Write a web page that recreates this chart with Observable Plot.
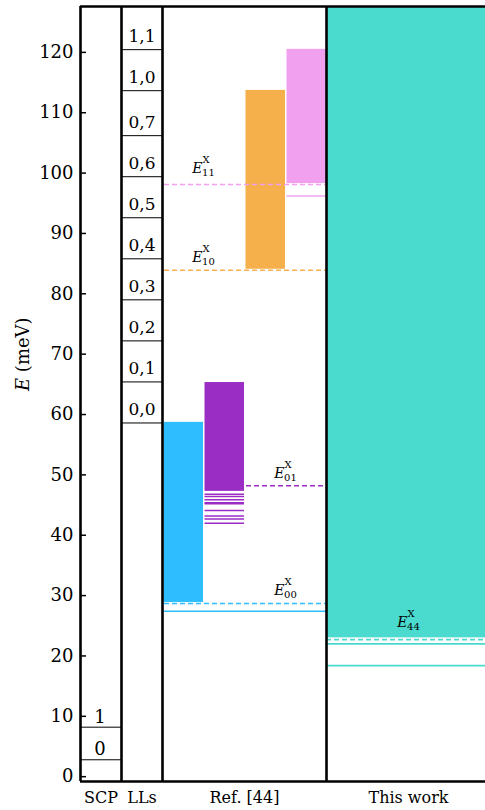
<!DOCTYPE html>
<html>
<head>
<meta charset="utf-8">
<script src="https://cdn.jsdelivr.net/npm/d3@7"></script>
<script src="https://cdn.jsdelivr.net/npm/@observablehq/plot@0.6"></script>
<style>
  html, body { margin: 0; padding: 0; background: #fff; overflow: hidden; font-family: "DejaVu Serif"; }
  svg { display: block; }
</style>
</head>
<body>
<div id="chart"></div>
<script>
// ---------------- data ----------------
const columns = ["SCP", "LLs", "Ref. [44]", "This work"];
const columnSpan = [1, 1, 4, 4];
const yTicks = [0, 10, 20, 30, 40, 50, 60, 70, 80, 90, 100, 110, 120];

const scpLabels = ["0", "1"];
const scpEnergies = [2.8, 8.2];

const llLabels = ["0,0", "0,1", "0,2", "0,3", "0,4", "0,5", "0,6", "0,7", "1,0", "1,1"];
const llEnergies = [58.6, 65.4, 72.2, 79.0, 85.8, 92.6, 99.4, 106.2, 113.65, 120.45];

const refStates = ["00", "01", "10", "11"];
const refColors = ["#2ebdfe", "#9a2ec4", "#f5b04b", "#f1a0ef"];
const refBandLow = [28.7, 47.1, 83.9, 98.1];
const refBandHigh = [58.7, 65.3, 113.7, 120.5];
const refExciton = [28.7, 48.2, 83.9, 98.1];
const refBound = [[27.4], [46.8, 46.4, 45.9, 45.4, 45.2, 44.1, 43.2, 42.7, 42.0], [], [96.2]];

const workState = "44";
const workColor = "#4adbce";
const workBandLow = 23.0;
const workExciton = 22.7;
const workBound = [22.0, 18.4];

// ---------------- layout helpers ----------------
const yMin = -0.8, yMax = 127.6;
const colStart = columnSpan.map((d, i) => d3.sum(columnSpan.slice(0, i)));
const colCenter = columnSpan.map((d, i) => colStart[i] + d / 2);
const refStart = colStart[2], refEnd = colStart[2] + columnSpan[2];
const workStart = colStart[3], workEnd = colStart[3] + columnSpan[3];
const edges = [colStart[0], colStart[1], colStart[2], colStart[3]];

const refData = refStates.map((s, i) => ({
  state: s, color: refColors[i], low: refBandLow[i], high: refBandHigh[i],
  ex: refExciton[i], x1: refStart + i, x2: refStart + i + 1
}));
const dashData = refData.map(d => ({...d, dx1: d.state === "01" ? d.x2 : refStart, dx2: refEnd}));
const boundData = refData.flatMap((d, i) => refBound[i].map(e => ({
  e, color: d.color, x1: d.state === "00" ? refStart : d.x1, x2: d.state === "00" ? refEnd : d.x2
})));
const labelData = [
  {sub: "11", e: refExciton[3], x: refStart + 1, lift: -12},
  {sub: "10", e: refExciton[2], x: refStart + 1, lift: -8},
  {sub: "01", e: refExciton[1], x: refStart + 3, lift: -8},
  {sub: "00", e: refExciton[0], x: refStart + 3, lift: -8},
  {sub: workState, e: workExciton, x: colCenter[3], lift: -13}
];

const font = "DejaVu Serif";
const W = 485, H = 810, ML = 80;
const unitPx = 41;

const T = (data, opts) => Plot.text(data, {fontFamily: font, fill: "#000", ...opts});

const chart = Plot.plot({
  width: W, height: H,
  marginLeft: ML, marginRight: 0, marginTop: 6, marginBottom: 29,
  style: {background: "#fff", color: "#000"},
  x: {domain: [0, (W - ML) / unitPx], axis: null},
  y: {domain: [yMin, yMax], axis: null},
  marks: [
    Plot.rectY(refData, {x1: "x1", x2: "x2", y1: "low", y2: "high", fill: "color", insetLeft: 1.5, insetBottom: 1}),
    Plot.rectY([workState], {x1: workStart, x2: workEnd, y1: workBandLow, y2: yMax, fill: workColor}),
    Plot.ruleY(dashData, {y: "ex", x1: "dx1", x2: "dx2", stroke: "color", strokeWidth: 1.6, strokeDasharray: "5,3", insetLeft: 2}),
    Plot.ruleY([workExciton], {x1: workStart, x2: workEnd, stroke: workColor, strokeWidth: 1.6, strokeDasharray: "5,3"}),
    Plot.ruleY(boundData, {y: "e", x1: "x1", x2: "x2", stroke: "color", strokeWidth: 1.5, insetLeft: 1.5}),
    Plot.ruleY(workBound, {x1: workStart, x2: workEnd, stroke: workColor, strokeWidth: 1.6}),
    Plot.ruleY(scpEnergies, {x1: colStart[0], x2: colStart[0] + 1, stroke: "#000", strokeWidth: 1}),
    T(scpEnergies, {x: colCenter[0], y: d => d, text: (d, i) => scpLabels[i], lineAnchor: "bottom", dy: -4.5, dx: -1, fontSize: 18}),
    Plot.ruleY(llEnergies, {x1: colStart[1], x2: colStart[1] + 1, stroke: "#000", strokeWidth: 1}),
    T(llEnergies, {x: colCenter[1], y: d => d, text: (d, i) => llLabels[i], lineAnchor: "bottom", dy: -8, fontSize: 17}),
    Plot.ruleX(edges, {stroke: "#000", strokeWidth: 2.6}),
    Plot.ruleY([yMin, yMax], {stroke: "#000", strokeWidth: 2.6}),
    Plot.axisY({ticks: yTicks, tickSize: -6, tickPadding: 13, strokeWidth: 1.5, fontSize: 18, fontFamily: font, label: null}),
    T(labelData, {x: "x", y: "e", text: d => "EX_" + d.sub, lineAnchor: "bottom", fontSize: 14}),
    T(columns, {x: (d, i) => colCenter[i], text: d => d, frameAnchor: "bottom", lineAnchor: "bottom", dy: 21, fontSize: 16}),
    T(["E (meV)"], {text: d => d, frameAnchor: "left", rotate: -90, dx: -57, dy: -3, lineAnchor: "middle", fontSize: 18})
  ]
});

document.getElementById("chart").appendChild(chart);

// ----- rich text for labels -----
const ns = "http://www.w3.org/2000/svg";
function tspan(parent, txt, attrs) {
  const t = document.createElementNS(ns, "tspan");
  t.textContent = txt;
  for (const k in attrs) t.setAttribute(k, attrs[k]);
  parent.appendChild(t);
  return t;
}
chart.querySelectorAll("text").forEach(el => {
  const s = el.textContent;
  if (s.startsWith("EX_")) {
    const d = labelData.find(l => "EX_" + l.sub === s);
    el.textContent = "";
    el.setAttribute("y", (+el.getAttribute("y") || 0) + d.lift);
    tspan(el, "E", {"font-style": "italic"});
    tspan(el, "X", {"font-size": "10", dy: "-10"});
    tspan(el, d.sub, {"font-size": "10", dx: "-7.5", dy: "13"});
  } else if (s === "E (meV)") {
    el.textContent = "";
    tspan(el, "E", {"font-style": "italic"});
    tspan(el, " (meV)", {});
  }
});
</script>
</body>
</html>
